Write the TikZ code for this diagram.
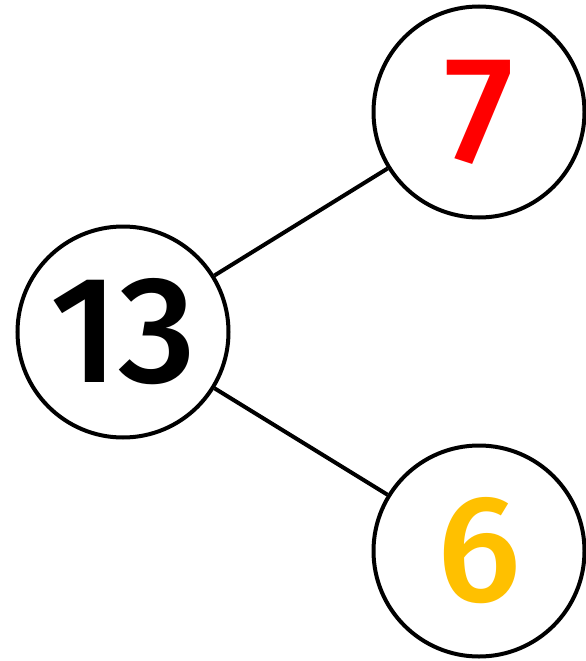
\documentclass[tikz,border=0pt]{standalone}
\usepackage{fontspec}
\setmainfont{Fira Sans}
\newfontfamily\digitfont{Fira Sans}[UprightFont=* Medium]
\definecolor{numred}{HTML}{FF0000}
\definecolor{numgold}{HTML}{FFC000}
\begin{document}
\begin{tikzpicture}[x=1pt,y=-1pt,
  bubble/.style={circle,draw=black,line width=4pt,minimum size=211pt,inner sep=0pt,fill=white,
    font=\fontsize{152}{152}\selectfont\digitfont},
  link/.style={line width=4pt}]
\useasboundingbox (0,0) rectangle (586,661);
\node[bubble] (a) at (123,332) {13};
\node[bubble,text=numred] (b) at (479,112) {7};
\node[bubble,text=numgold] (c) at (479,551) {6};
\draw[link] (a) -- (b);
\draw[link] (a) -- (c);
\end{tikzpicture}
\end{document}
